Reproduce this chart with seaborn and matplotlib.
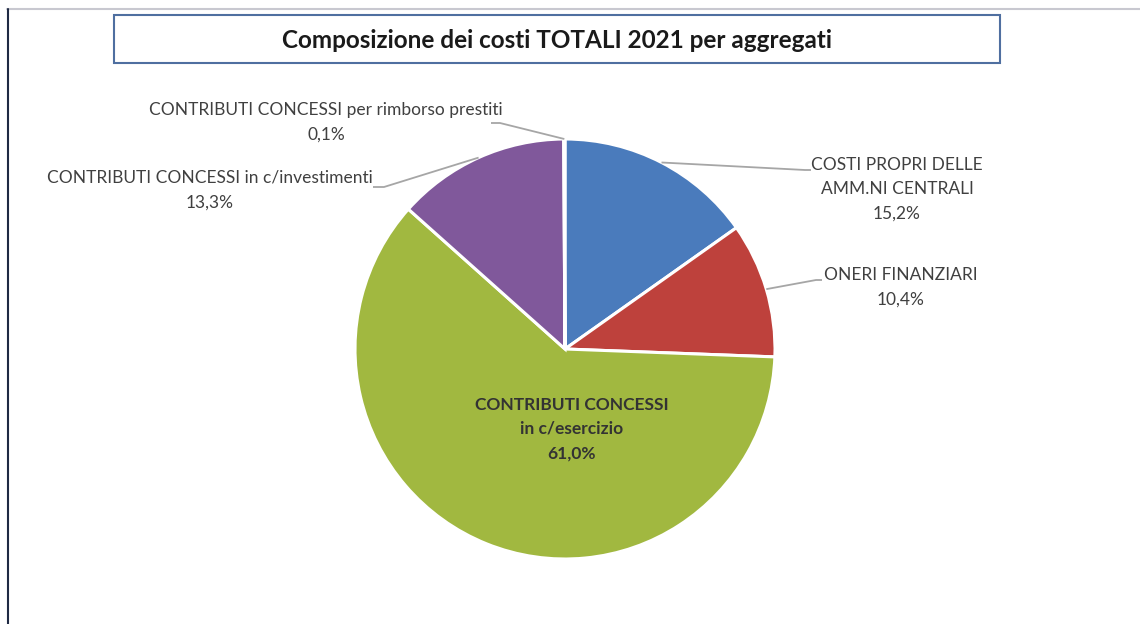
import numpy as np
import matplotlib
matplotlib.use("Agg")
import matplotlib.pyplot as plt
import seaborn as sns
from matplotlib.patches import Rectangle
from matplotlib.lines import Line2D

sns.set_theme(style="white")
plt.rcParams['font.family'] = ['Lato', 'DejaVu Sans']

# ---- data ----
categories = [
    "COSTI PROPRI DELLE\nAMM.NI CENTRALI",
    "ONERI FINANZIARI",
    "CONTRIBUTI CONCESSI\nin c/esercizio",
    "CONTRIBUTI CONCESSI in c/investimenti",
    "CONTRIBUTI CONCESSI per rimborso prestiti",
]
values = [15.2, 10.4, 61.0, 13.3, 0.1]
colors = ["#4A7BBC", "#BE413C", "#A1B840", "#80589B", "#4BACC6"]
title = "Composizione dei costi TOTALI 2021 per aggregati"

# ---- layout (pixels) ----
W, H = 1140, 624
CX, CY, R = 565, 349, 210
# text centers and leader elbow/end points (pixels)
text_pos = [(897, 189), (901, 287), (572, 429), (210, 190), (326, 122)]
elbows = [((805, 170), (811, 170)), ((816, 280), (822, 280)), None,
          ((384, 187), (373, 187)), ((500, 123), (491, 123))]


def px(x, y):
    return ((x - CX) / R, (CY - y) / R)


fig = plt.figure(figsize=(W / 100, H / 100), dpi=100)
ax = fig.add_axes([0, 0, 1, 1])
wedges, _ = ax.pie(values, colors=colors, startangle=90, counterclock=False,
                   radius=1.0, center=(0, 0),
                   wedgeprops=dict(edgecolor="white", linewidth=2.2))
ax.set_aspect("auto")
ax.set_xlim((0 - CX) / R, (W - CX) / R)
ax.set_ylim((CY - H) / R, CY / R)
ax.axis("off")

fmt = lambda v: f"{v:.1f}%".replace(".", ",")

for i, (w, lab, v) in enumerate(zip(wedges, categories, values)):
    tx, ty = px(*text_pos[i])
    if i == 2:
        ax.text(tx, ty, f"{lab}\n{fmt(v)}", ha="center", va="center",
                fontsize=12.5, fontweight="bold", color="#333333",
                linespacing=1.65)
        continue
    ax.text(tx, ty, f"{lab}\n{fmt(v)}", ha="center", va="center",
            fontsize=12.5, color="#404040", linespacing=1.65)
    ang = np.deg2rad((w.theta1 + w.theta2) / 2)
    ax0, ay0 = np.cos(ang), np.sin(ang)
    (e1, e2) = elbows[i]
    ex, ey = px(*e1)
    fx, fy = px(*e2)
    ax.plot([ax0, ex, fx], [ay0, ey, fy], color="#A6A6A6", lw=1.3,
            solid_capstyle="butt")

# frame lines
fig.add_artist(Line2D([7 / W, 1], [1 - 9 / H, 1 - 9 / H], transform=fig.transFigure,
                      color="#C8C8D0", lw=1.5))
fig.add_artist(Line2D([7.5 / W, 7.5 / W], [0, 1 - 9 / H], transform=fig.transFigure,
                      color="#1F2A44", lw=1.5))

# title box
bx0, by0, bx1, by1 = 114, 15, 1000, 63
fig.add_artist(Rectangle((bx0 / W, 1 - by1 / H), (bx1 - bx0) / W, (by1 - by0) / H,
                         transform=fig.transFigure, fill=False,
                         edgecolor="#4F6FA0", lw=1.5))
fig.text((bx0 + bx1) / 2 / W, 1 - 40 / H, title, ha="center", va="center",
         fontsize=17.5, fontweight="bold", color="#1A1A1A")

fig.savefig("out.png", dpi=100)
